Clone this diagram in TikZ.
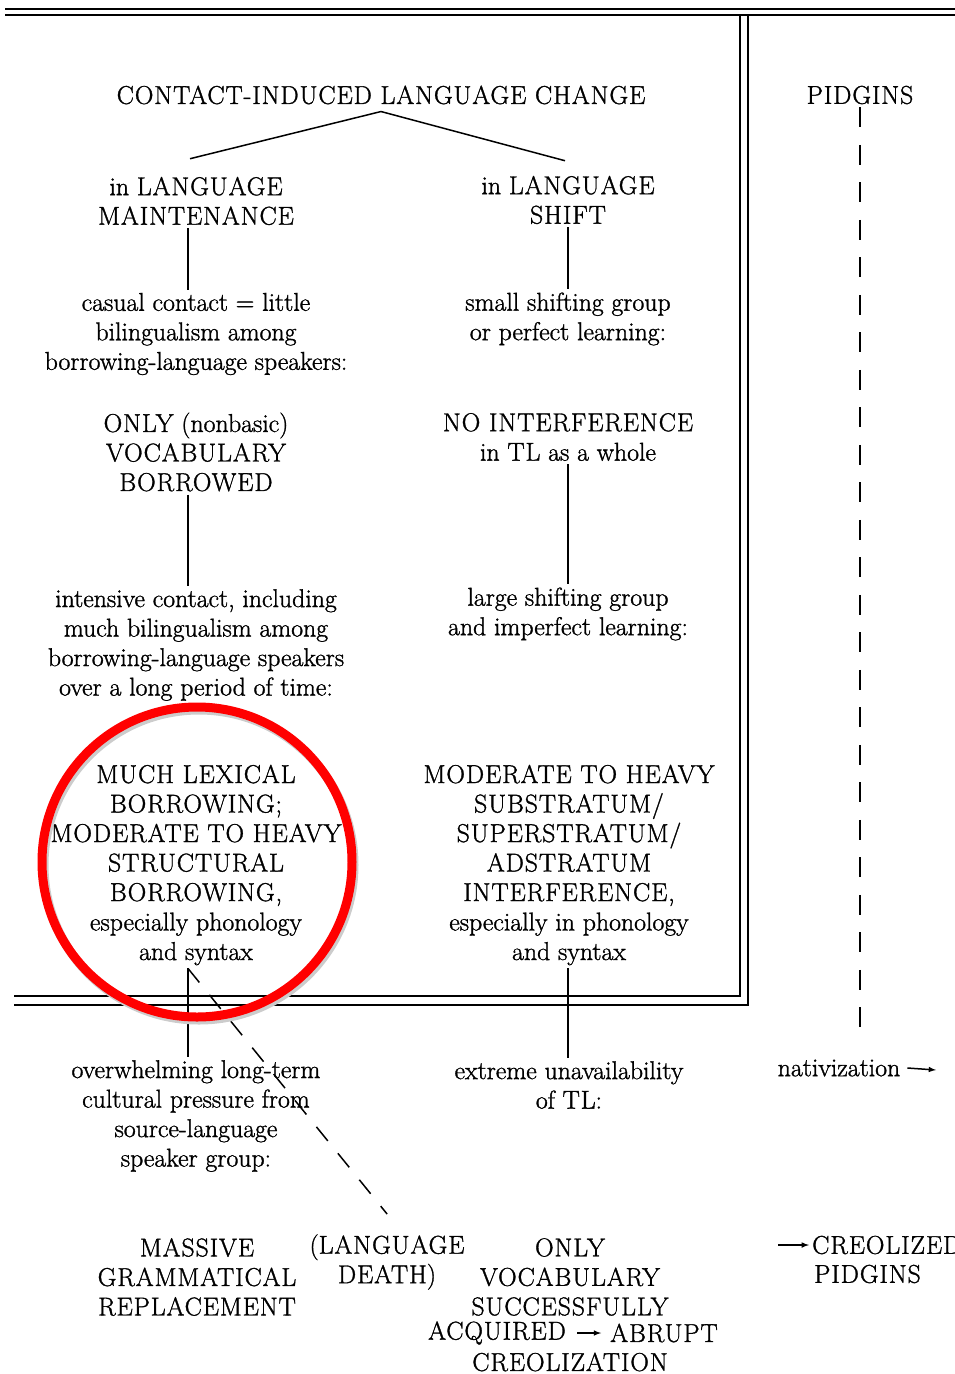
\documentclass[tikz,border=0pt]{standalone}
\usepackage{fontspec}
\setmainfont{Latin Modern Roman}[FakeBold=1.2]
\newfontfamily\capsfont{Latin Modern Roman}[FakeBold=1.2, LetterSpace=3.5]
\newcommand\capword[1]{{\capsfont #1}}
\usepackage{tikz}
\usetikzlibrary{arrows,positioning,shapes.geometric}

\begin{document}
\begin{tikzpicture}[
    x=1pt, y=-1pt,
    >=latex,
    font=\fontsize{25.8}{29.5}\selectfont,
    txt/.style={
		align=center,
		inner sep=3pt
	},
	link/.style={
		line width=1.5pt
	},
	frame/.style={
		line width=1.8pt
	},
	dashline/.style={
		line width=1.5pt,
		dash pattern=on 18pt off 16pt
	},
	ring/.style={
		circle,
		line width=9pt,
		minimum size=310pt
	}
  ]
  \useasboundingbox (0,0) rectangle (955,1374);

  % the frame
  \draw [frame] (5,9) -- (955,9);
  \draw [frame] (5,15) -- (955,15);
  \draw [frame] (14,996) -- (740,996) -- (740,15);
  \draw [frame] (14,1005) -- (748,1005) -- (748,15);

  \coordinate (lcol) at (188,0);
  \coordinate (rcol) at (568,0);

  % the blocks
  \node [txt] (title) at (381,95) {\capword{CONTACT-INDUCED LANGUAGE CHANGE}};

  \node [txt] (maint) at (196,201) {in \capword{LANGUAGE}\\\capword{MAINTENANCE}};
  \node [txt] (shift) at (568,200) {in \capword{LANGUAGE}\\\capword{SHIFT}};

  \node [txt] (casual) at (196,334) {casual contact = little\\bilingualism among\\borrowing-language speakers:};
  \node [txt] (small) at (568,319) {small shifting group\\or perfect learning:};

  \node [txt] (onlyvoc) at (196,452) {\capword{ONLY} (nonbasic)\\\capword{VOCABULARY}\\\capword{BORROWED}};
  \node [txt] (nointerf) at (568,437) {\capword{NO INTERFERENCE}\\in \capword{TL} as a whole};

  \node [txt] (intensive) at (196,645) {intensive contact, including\\much bilingualism among\\borrowing-language speakers\\over a long period of time:};
  \node [txt] (large) at (568,614) {large shifting group\\and imperfect learning:};

  \node [txt] (muchlex) at (196,865) {\capword{MUCH LEXICAL}\\\capword{BORROWING;}\\\capword{MODERATE TO HEAVY}\\\capword{STRUCTURAL}\\\capword{BORROWING,}\\especially phonology\\and syntax};
  \node [txt] (moderate) at (569,865) {\capword{MODERATE TO HEAVY}\\\capword{SUBSTRATUM/}\\\capword{SUPERSTRATUM/}\\\capword{ADSTRATUM}\\\capword{INTERFERENCE,}\\especially in phonology\\and syntax};

  \node [txt] (overwh) at (196,1116) {overwhelming long-term\\cultural pressure from\\source-language\\speaker group:};
  \node [txt] (extreme) at (569,1085) {extreme unavailability\\of \capword{TL}:};

  \node [txt] (massive) at (197,1277) {\capword{MASSIVE}\\\capword{GRAMMATICAL}\\\capword{REPLACEMENT}};
  \node [txt] (death) at (387,1262) {(\capword{LANGUAGE}\\\capword{DEATH})};
  \node [txt] (onlyacq) at (570,1277) {\capword{ONLY}\\\capword{VOCABULARY}\\\capword{SUCCESSFULLY}};
  \node [txt] (acquired) at (497,1333) {\capword{ACQUIRED}};
  \node [txt] (abrupt) at (664,1333) {\capword{ABRUPT}};
  \node [txt] (creoliz) at (570,1362) {\capword{CREOLIZATION}};

  \node [txt] (pidgins) at (860,95) {\capword{PIDGINS}};
  \coordinate (pidgend) at (860,1030);
  \node [txt] (nativ) at (839,1068) {nativization};
  \coordinate (natend) at (936,1070);
  \coordinate (crstart) at (778,1245);
  \node [txt, anchor=west] (creolized) at (809,1245) {\capword{CREOLIZED}};
  \node [txt, anchor=west] (crpidgins) at (811,1274) {\capword{PIDGINS}};

  % the lines
  \draw [link] ([yshift=-4pt]title.south) -- ([xshift=-6pt,yshift=15pt]maint.north);
  \draw [link] ([yshift=-4pt]title.south) -- ([xshift=-3pt,yshift=12pt]shift.north);

  \draw [link] (maint.south -| lcol) -- (casual.north -| lcol);
  \draw [link] (shift.south -| rcol) -- (small.north -| rcol);
  \draw [link] (onlyvoc.south -| lcol) -- (intensive.north -| lcol);
  \draw [link] (nointerf.south -| rcol) -- (large.north -| rcol);
  \draw [link] (muchlex.south -| lcol) -- (overwh.north -| lcol);
  \draw [link] (moderate.south -| rcol) -- (extreme.north -| rcol);

  \draw [dashline, shorten >=22pt] (muchlex.south -| lcol) -- ([xshift=14pt]death.north);
  \draw [dashline, dash pattern=on 20pt off 17.5pt] (pidgins.south) -- (pidgend);

  \draw [link, ->] ([xshift=4pt]nativ.east) -- (natend);
  \draw [link, ->] (crstart) -- (creolized.west);
  \draw [link, ->, shorten <=8pt, shorten >=6pt] (acquired.east) -- (abrupt.west);

  % the red mark
  \node [ring, draw=black!20] (shadow) at (199,865) {};
  \node [ring, draw=red] (mark) at (197,862) {};
\end{tikzpicture}
\end{document}
